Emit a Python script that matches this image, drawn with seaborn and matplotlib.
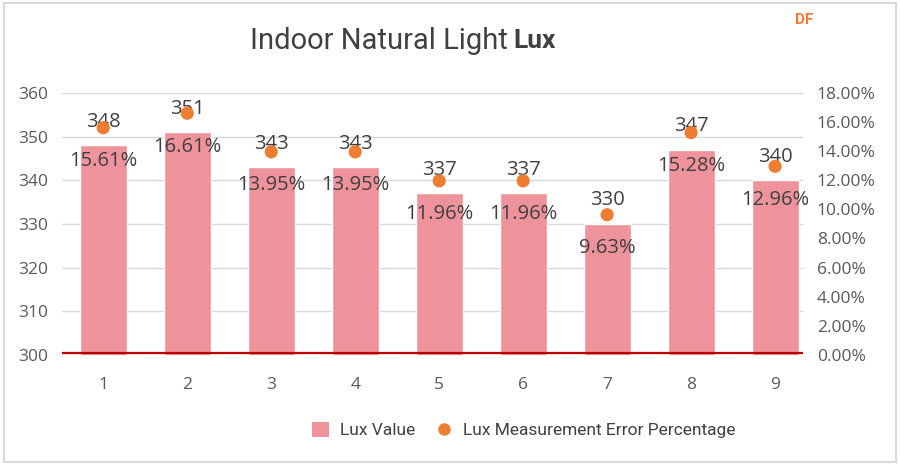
import matplotlib
matplotlib.use("Agg")
import matplotlib.pyplot as plt
import seaborn as sns
import pandas as pd
import numpy as np
from matplotlib.patches import Patch, Rectangle
from matplotlib.lines import Line2D
from matplotlib.ticker import FuncFormatter

# chart data
points = ["1", "2", "3", "4", "5", "6", "7", "8", "9"]
lux_values = [348, 351, 343, 343, 337, 337, 330, 347, 340]
error_pct = [15.61, 16.61, 13.95, 13.95, 11.96, 11.96, 9.63, 15.28, 12.96]

sns.set_theme(style="white")
plt.rcParams["font.family"] = ["Roboto", "DejaVu Sans"]

BAR = "#EE939B"
DOT = "#ED7D31"
TXT = "#404040"
TICK = "#595959"

df = pd.DataFrame({"point": points, "lux": lux_values, "err": error_pct})
pos = np.arange(len(points))

fig = plt.figure(figsize=(9, 4.65), dpi=100)
fig.patches.append(Rectangle((0.004, 0.006), 0.992, 0.988, transform=fig.transFigure,
                             fill=False, edgecolor="#D9D9D9", linewidth=1.5))
ax = fig.add_axes([0.069, 0.237, 0.823, 0.563])

sns.barplot(data=df, x="point", y="lux", color=BAR, width=0.56, saturation=1, ax=ax)
ax.set_ylim(300, 360)
ax.set_xlim(-0.49, 8.33)
ax.set_yticks(range(300, 361, 10))
ax.yaxis.grid(True, color="#D9D9D9", linewidth=1)
ax.set_axisbelow(True)
ax.axhline(300.3, color="#C00000", linewidth=1.6, zorder=3)
for s in ax.spines.values():
    s.set_visible(False)
ax.set_xlabel("")
ax.set_ylabel("")
ax.tick_params(axis="both", length=0, labelsize=12.5, labelcolor=TICK)
ax.tick_params(axis="x", pad=16)
ax.tick_params(axis="y", pad=10)
for lbl in ax.get_xticklabels() + ax.get_yticklabels():
    lbl.set_family("Open Sans")

ax2 = ax.twinx()
sns.scatterplot(x=pos, y=df["err"], color=DOT, s=90, edgecolor="none", ax=ax2, zorder=4)
ax2.set_ylim(0, 18)
ax2.set_yticks(range(0, 19, 2))
ax2.yaxis.set_major_formatter(FuncFormatter(lambda v, _: f"{v:.2f}%"))
for s in ax2.spines.values():
    s.set_visible(False)
ax2.set_ylabel("")
ax2.tick_params(axis="y", length=0, labelsize=12.5, labelcolor=TICK, pad=10)
for lbl in ax2.get_yticklabels():
    lbl.set_family("Open Sans")
ax2.grid(False)

# data labels
for i, (v, e) in enumerate(zip(lux_values, error_pct)):
    ax.annotate(f"{v}", (i, v), xytext=(0, 17), textcoords="offset points",
                ha="center", va="center", fontsize=14.5, color=TXT, family="Open Sans")
    ax2.annotate(f"{e:.2f}%", (i, e), xytext=(0, -24), textcoords="offset points",
                 ha="center", va="center", fontsize=14.5, color=TXT, family="Open Sans")

fig.text(0.564, 0.912, "Indoor Natural Light", ha="right", va="center",
         fontsize=21, color=TXT)
fig.text(0.570, 0.912, "Lux", ha="left", va="center", fontsize=19,
         color=TXT, fontweight="bold")
fig.text(0.894, 0.957, "DF", ha="center", va="center", fontsize=11,
         color="#F07A3A", fontweight="bold")

handles = [Patch(facecolor=BAR, edgecolor="none"),
           Line2D([], [], marker="o", linestyle="none", markersize=9,
                  markerfacecolor=DOT, markeredgecolor="none")]
fig.legend(handles, ["Lux Value", "Lux Measurement Error Percentage"],
           loc="center", bbox_to_anchor=(0.582, 0.075), ncol=2, frameon=False,
           fontsize=12.5, labelcolor=TXT, handlelength=1.0, handleheight=1.0,
           columnspacing=1.2, handletextpad=0.6)

fig.savefig("out.png", dpi=100)
